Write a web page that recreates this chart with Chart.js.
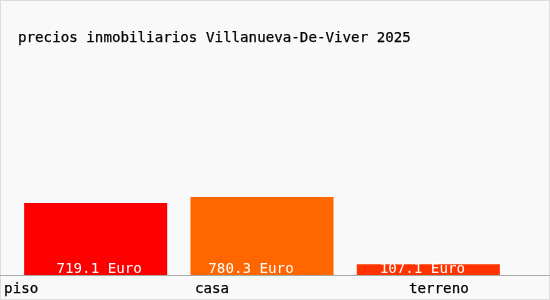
<!DOCTYPE html>
<html>
<head>
<meta charset="utf-8">
<script src="https://cdn.jsdelivr.net/npm/chart.js@4.4.1/dist/chart.umd.min.js"></script>
<style>
  html, body { margin: 0; padding: 0; background: #f9f9f9; }
  #box { width: 550px; height: 300px; position: relative; }
</style>
</head>
<body>
<div id="box"><canvas id="ctx"></canvas></div>
<script>
// Data
const categories = ['piso', 'casa', 'terreno'];
const prices = [719.1, 780.3, 107.1];
const valueLabels = ['719.1 Euro', '780.3 Euro', '107.1 Euro'];
const barColors = ['#ff0000', '#ff6600', '#ff3300'];
const titleText = 'precios inmobiliarios Villanueva-De-Viver 2025';

const FONT = '"DejaVu Sans Mono", monospace';

// slightly heavier than regular text
function heavyText(c, txt, x, y) {
  c.fillText(txt, x, y);
  c.lineWidth = 0.25;
  c.strokeStyle = c.fillStyle;
  c.strokeText(txt, x, y);
}

// background, frame, title, axis line, labels
const decor = {
  id: 'decor',
  beforeDraw(chart) {
    const c = chart.ctx;
    c.save();
    c.fillStyle = '#f9f9f9';
    c.fillRect(0, 0, chart.width, chart.height);
    c.strokeStyle = '#dddddd';
    c.lineWidth = 1;
    c.strokeRect(0.5, 0.5, chart.width - 1, chart.height - 1);
    c.fillStyle = '#000';
    c.font = '14.2px ' + FONT;
    c.textBaseline = 'middle';
    c.textAlign = 'left';
    heavyText(c, titleText, 18, 38);
    c.restore();
  },
  afterDraw(chart, args, opts) {
    const c = chart.ctx;
    const area = chart.chartArea;
    const meta = chart.getDatasetMeta(0);
    const x = chart.scales.x;
    c.save();
    // value labels inside bars
    c.font = '14.2px ' + FONT;
    c.fillStyle = '#ffffff';
    c.textAlign = 'center';
    c.textBaseline = 'alphabetic';
    meta.data.forEach((bar, i) => {
      c.fillText(valueLabels[i], bar.x + opts.valueShift[i], area.bottom - 2);
    });
    // axis line
    c.strokeStyle = '#aaaaaa';
    c.lineWidth = 1;
    c.beginPath();
    c.moveTo(0, area.bottom + 0.5);
    c.lineTo(chart.width, area.bottom + 0.5);
    c.stroke();
    // category labels
    c.fillStyle = '#000';
    c.textBaseline = 'middle';
    categories.forEach((lab, i) => {
      heavyText(c, lab, x.getPixelForTick(i) + opts.shift[i], area.bottom + 14);
    });
    c.restore();
  }
};

new Chart(document.getElementById('ctx'), {
  type: 'bar',
  data: {
    labels: categories,
    datasets: [{
      data: prices,
      backgroundColor: barColors,
      borderWidth: 0,
      barPercentage: 0.86,
      categoryPercentage: 1
    }]
  },
  options: {
    responsive: true,
    maintainAspectRatio: false,
    animation: false,
    layout: { padding: { left: 12.5, right: 38.5, top: 75, bottom: 25 } },
    plugins: {
      legend: { display: false },
      tooltip: { enabled: false },
      decor: { shift: [-74.5, -50, 10.5], valueShift: [3.5, -11, -6] }
    },
    scales: {
      x: { display: false, offset: true },
      y: { display: false, min: 0, max: 2000 }
    }
  },
  plugins: [decor]
});
</script>
</body>
</html>
